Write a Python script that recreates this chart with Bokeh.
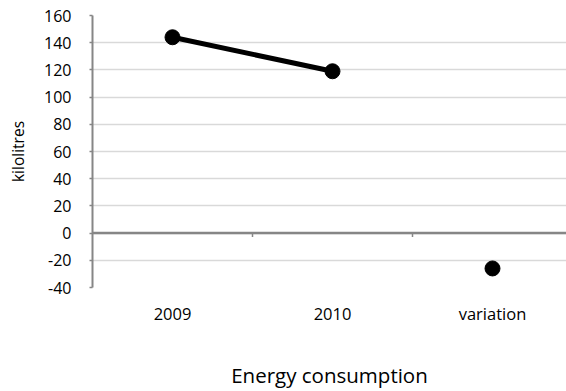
import math
from bokeh.plotting import figure
from bokeh.models import Range1d, FixedTicker, Span
from bokeh.embed import file_html
from bokeh.resources import INLINE

# ---- data ----
categories = ["2009", "2010", "variation"]
consumption = [144, 119]          # kilolitres, 2009 and 2010 (connected line)
variation = [-26]                  # variation point
y_ticks = [-40, -20, 0, 20, 40, 60, 80, 100, 120, 140, 160]

# category positions (one unit per category, centred)
x_pos = [i + 0.5 for i in range(len(categories))]
boundaries = [i for i in range(1, len(categories))]

FONT = "Open Sans"
AXIS_GREY = "#868686"
GRID_GREY = "#D9D9D9"

p = figure(width=566, height=391, output_backend="svg", toolbar_location=None,
           x_range=Range1d(0, 2.9625), y_range=Range1d(y_ticks[0], y_ticks[-1]),
           min_border_left=92, min_border_right=0, min_border_top=15,
           min_border_bottom=102)
p.outline_line_color = None
p.background_fill_color = "white"
p.border_fill_color = "white"

# y axis
p.yaxis.ticker = FixedTicker(ticks=y_ticks)
p.yaxis.major_label_overrides = {t: str(t) for t in y_ticks}
p.yaxis.axis_line_color = AXIS_GREY
p.yaxis.axis_line_width = 2
p.yaxis.major_tick_line_color = AXIS_GREY
p.yaxis.major_tick_line_width = 1.5
p.yaxis.major_tick_out = 3
p.yaxis.major_tick_in = 0
p.yaxis.minor_tick_line_color = None
p.yaxis.major_label_standoff = 18
p.yaxis.major_label_text_font = FONT
p.yaxis.major_label_text_font_size = "16px"
p.yaxis.major_label_text_color = "#000000"
p.yaxis.axis_label = "kilolitres"
p.yaxis.axis_label_text_font = FONT
p.yaxis.axis_label_text_font_size = "15.5px"
p.yaxis.axis_label_text_font_style = "normal"
p.yaxis.axis_label_text_color = "#000000"
p.yaxis.axis_label_standoff = 12

# category axis (labels at the bottom)
p.xaxis.ticker = FixedTicker(ticks=x_pos)
p.xaxis.major_label_overrides = {x: c for x, c in zip(x_pos, categories)}
p.xaxis.axis_line_color = None
p.xaxis.major_tick_line_color = None
p.xaxis.minor_tick_line_color = None
p.xaxis.major_tick_out = 0
p.xaxis.major_tick_in = 0
p.xaxis.major_label_standoff = 14
p.xaxis.major_label_text_font = FONT
p.xaxis.major_label_text_font_size = "16.5px"
p.xaxis.major_label_text_color = "#000000"
p.xaxis.axis_label = "Energy consumption"
p.xaxis.axis_label_text_font = FONT
p.xaxis.axis_label_text_font_size = "20.5px"
p.xaxis.axis_label_text_font_style = "normal"
p.xaxis.axis_label_text_color = "#000000"
p.xaxis.axis_label_standoff = 33

# grid
p.xgrid.grid_line_color = None
p.ygrid.ticker = FixedTicker(ticks=y_ticks)
p.ygrid.grid_line_color = GRID_GREY
p.ygrid.grid_line_width = 1.5

# zero line with category boundary ticks
p.add_layout(Span(location=0, dimension="width", line_color=AXIS_GREY,
                  line_width=2.5))
p.ray(x=boundaries, y=[0] * len(boundaries), length=4, length_units="screen",
      angle=-math.pi / 2, line_color=AXIS_GREY, line_width=1.5)

# data
p.line(x_pos[:2], consumption, line_color="black", line_width=5)
p.scatter(x_pos[:2], consumption, size=15, color="black")
p.scatter(x_pos[2:], variation, size=15, color="black")

open("out.html", "w").write(file_html(p, INLINE))
